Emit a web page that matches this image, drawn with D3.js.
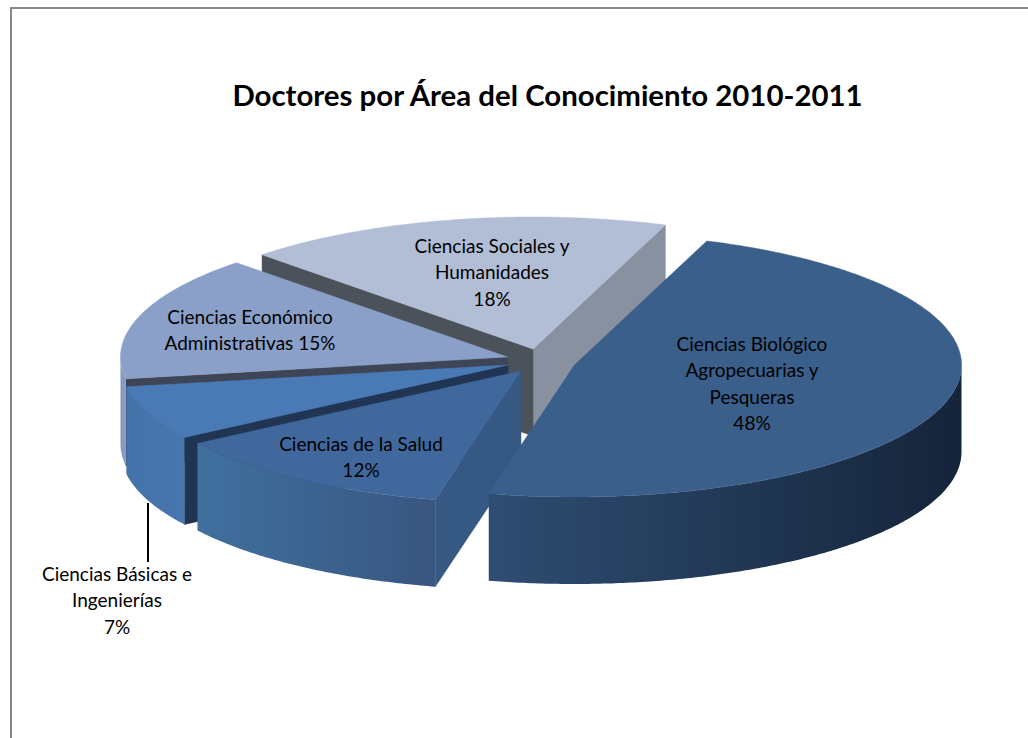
<!DOCTYPE html>
<html><head><meta charset="utf-8">
<script src="https://cdn.jsdelivr.net/npm/d3@7"></script>
<style>html,body{margin:0;padding:0;background:#fff;overflow:hidden}svg{display:block}text{font-family:Lato,"Open Sans",sans-serif;fill:#000}</style>
</head><body><div id="chart"></div>
<script>
const title = "Doctores por Área del Conocimiento 2010-2011";
const categories = ["Ciencias Biológico Agropecuarias y Pesqueras","Ciencias de la Salud","Ciencias Básicas e Ingenierías","Ciencias Económico Administrativas","Ciencias Sociales y Humanidades"];
const values = [48,12.2,6.6,15.3,17.9];
const labelLines = [
  ["Ciencias Biológico","Agropecuarias y","Pesqueras","48%"],
  ["Ciencias de la Salud","12%"],
  ["Ciencias Básicas e","Ingenierías","7%"],
  ["Ciencias Económico","Administrativas 15%"],
  ["Ciencias Sociales y","Humanidades","18%"]
];
// layout & style
const W=1028,H=738,RX=387,RY=132,DEPTH=87;
const centers=[[574.5,365],[521,371],[508,365],[507.5,357],[533,349]];
const labelPos=[[752,351],[361,451],[117,581],[250,324],[492,253]];
const topCol=["#3a5f8b","#41689d","#4a7ab6","#8aa0c8","#b2bdd6"];
const wallCol=[["#2e4d72","#15243a"],["#40709f","#385680"],["#4473a9","#4877b0"],["#8297bd","#8a9fc6"],["#999","#999"]];
const startCut=["#000","#365983","#1f3553","#3d4557","#4b5259"];
const endCut=["#000","#000","#000","#000","#88919f"];

const svg=d3.select("#chart").append("svg").attr("width",W).attr("height",H);
const defs=svg.append("defs");
svg.append("rect").attr("width",W).attr("height",H).attr("fill","#fff");
svg.append("path").attr("d",`M11,${H}V8H${W}`).attr("fill","none").attr("stroke","#868686").attr("stroke-width",2);

svg.append("text").attr("x",547.5).attr("y",105.5).attr("text-anchor","middle")
  .attr("font-size",29.4).attr("font-weight",700).text(title);

const arcs=d3.pie().sort(null).startAngle(20*Math.PI/180).endAngle(380*Math.PI/180)(values);
const sx=d3.scaleLinear().domain([-1,1]).range([-RX,RX]);
const sy=d3.scaleLinear().domain([-1,1]).range([RY,-RY]);
const line=d3.line();
function pt(c,a,d=0){return [c[0]+sx(Math.sin(a)),c[1]+sy(Math.cos(a))+d];}
function rim(c,a0,a1,d=0){const n=Math.max(2,Math.ceil(Math.abs(a1-a0)/0.01));return d3.range(n+1).map(i=>pt(c,a0+(a1-a0)*i/n,d));}
const P=Math.PI;
// back to front
const g=svg.append("g");
d3.range(arcs.length-1,-1,-1).forEach(i=>{
  const s=arcs[i],c=centers[i],a0=s.startAngle,a1=s.endAngle;
  const sl=g.append("g").attr("class","slice").attr("data-cat",categories[i]);
  function cut(a,col){
    const o=pt(c,a);
    sl.append("path").attr("d",line([c,o,[o[0],o[1]+DEPTH],[c[0],c[1]+DEPTH]])+"Z").attr("fill",col).attr("stroke",col).attr("stroke-width",.5);
  }
  if(Math.sin(a1)>0) cut(a1,endCut[i]);
  if(Math.sin(a0)<0) cut(a0,startCut[i]);
  const w0=Math.max(a0,P/2),w1=Math.min(a1,1.5*P);
  if(w1>w0){
    const pa=rim(c,w0,w1),pb=rim(c,w1,w0,DEPTH);
    const xs=pa.map(p=>p[0]);
    const id="w"+i;
    const gr=defs.append("linearGradient").attr("id",id).attr("gradientUnits","userSpaceOnUse")
      .attr("x1",d3.min(xs)).attr("x2",d3.max(xs)).attr("y1",0).attr("y2",0);
    gr.append("stop").attr("offset",0).attr("stop-color",wallCol[i][0]);
    gr.append("stop").attr("offset",1).attr("stop-color",wallCol[i][1]);
    sl.append("path").attr("d",line(pa.concat(pb))+"Z").attr("fill",`url(#${id})`);
  }
  sl.append("path").attr("d",line([c].concat(rim(c,a0,a1)))+"Z").attr("fill",topCol[i]).attr("stroke",topCol[i]).attr("stroke-width",.5);
});

svg.append("line").attr("x1",148).attr("x2",148).attr("y1",503).attr("y2",562).attr("stroke","#000").attr("stroke-width",2);

labelLines.forEach((ls,i)=>{
  const t=svg.append("text").attr("text-anchor","middle").attr("font-size",19);
  ls.forEach((l,j)=>t.append("tspan").attr("x",labelPos[i][0]).attr("y",labelPos[i][1]+j*26.4).text(l));
});
</script></body></html>
